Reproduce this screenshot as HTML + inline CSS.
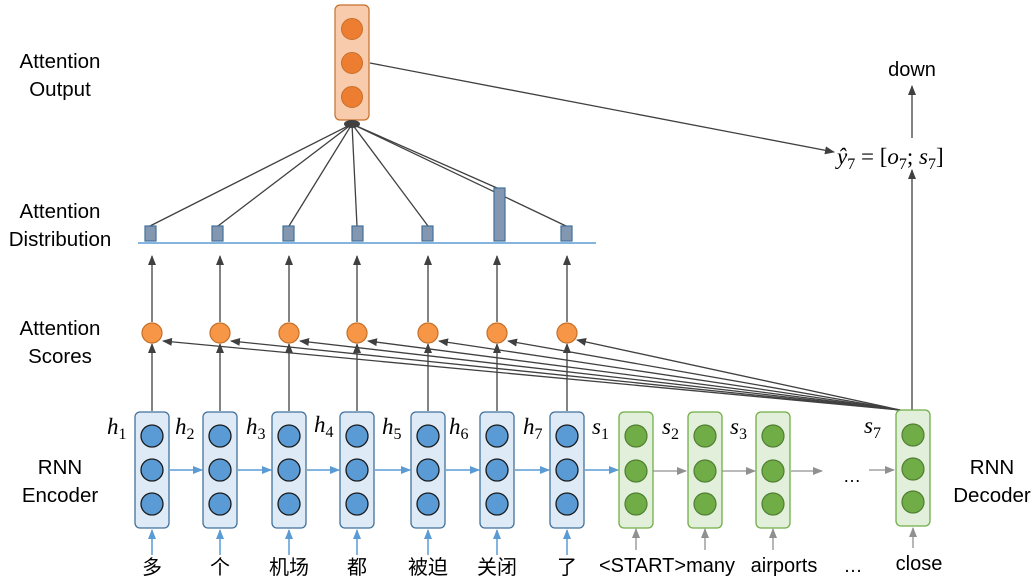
<!DOCTYPE html>
<html><head><meta charset="utf-8"><style>
body{margin:0;background:#fff;}
svg{display:block;font-family:"Liberation Sans","Noto Sans CJK SC",sans-serif;}
.lab{font-size:20.5px;fill:#000;text-anchor:middle;}
.m{font-family:"Liberation Serif","DejaVu Serif",serif;font-style:italic;font-size:23px;}
.w{font-size:20px;text-anchor:middle;}
</style></head><body>
<svg width="1036" height="588" viewBox="0 0 1036 588" xmlns="http://www.w3.org/2000/svg">
<defs>
<marker id="ak" markerWidth="10" markerHeight="10" refX="9" refY="5" orient="auto" markerUnits="userSpaceOnUse"><path d="M0,1 L10,5 L0,9 z" fill="#404040"/></marker>
<marker id="ab" markerWidth="10" markerHeight="10" refX="9" refY="5" orient="auto" markerUnits="userSpaceOnUse"><path d="M0,1 L10,5 L0,9 z" fill="#5b9bd5"/></marker>
<marker id="ag" markerWidth="10" markerHeight="10" refX="9" refY="5" orient="auto" markerUnits="userSpaceOnUse"><path d="M0,1 L10,5 L0,9 z" fill="#909090"/></marker>
</defs>

<text class="lab" x="60" y="68">Attention</text><text class="lab" x="60" y="96">Output</text>
<text class="lab" x="60" y="218">Attention</text><text class="lab" x="60" y="246">Distribution</text>
<text class="lab" x="60" y="335">Attention</text><text class="lab" x="60" y="363">Scores</text>
<text class="lab" x="60" y="474">RNN</text><text class="lab" x="60" y="502">Encoder</text>
<text class="lab" x="992" y="474">RNN</text><text class="lab" x="992" y="502">Decoder</text>

<g stroke="#404040" stroke-width="1.3" fill="none" marker-end="url(#ak)">
<line x1="900" y1="410" x2="163" y2="341"/>
<line x1="900" y1="410" x2="231" y2="341"/>
<line x1="900" y1="410" x2="300" y2="341"/>
<line x1="900" y1="410" x2="368" y2="341"/>
<line x1="900" y1="410" x2="439" y2="341"/>
<line x1="900" y1="410" x2="508" y2="341"/>
<line x1="900" y1="410" x2="577" y2="340"/>
</g>

<g stroke="#404040" stroke-width="1.3" marker-end="url(#ak)">
<line x1="152" y1="411" x2="152" y2="344"/><line x1="152" y1="322" x2="152" y2="256"/>
<line x1="220" y1="411" x2="220" y2="344"/><line x1="220" y1="322" x2="220" y2="256"/>
<line x1="289" y1="411" x2="289" y2="344"/><line x1="289" y1="322" x2="289" y2="256"/>
<line x1="357" y1="411" x2="357" y2="344"/><line x1="357" y1="322" x2="357" y2="256"/>
<line x1="428" y1="411" x2="428" y2="344"/><line x1="428" y1="322" x2="428" y2="256"/>
<line x1="497" y1="411" x2="497" y2="344"/><line x1="497" y1="322" x2="497" y2="256"/>
<line x1="567" y1="411" x2="567" y2="344"/><line x1="567" y1="322" x2="567" y2="256"/>
<line x1="912" y1="410" x2="912" y2="170"/>
<line x1="912" y1="138" x2="912" y2="86"/>
<line x1="370" y1="63" x2="834" y2="152"/>
</g>

<g fill="#f79646" stroke="#c5702a" stroke-width="1.2">
<circle cx="152" cy="333" r="10"/><circle cx="220" cy="333" r="10"/><circle cx="289" cy="333" r="10"/><circle cx="357" cy="333" r="10"/><circle cx="428" cy="333" r="10"/><circle cx="497" cy="333" r="10"/><circle cx="567" cy="333" r="10"/>
</g>

<line x1="138" y1="243" x2="596" y2="243" stroke="#5b9bd5" stroke-width="1.5"/>
<g stroke="#404040" stroke-width="1.3">
<line x1="352" y1="124" x2="150" y2="226"/>
<line x1="352" y1="124" x2="218" y2="226"/>
<line x1="352" y1="124" x2="289" y2="226"/>
<line x1="352" y1="124" x2="357" y2="226"/>
<line x1="352" y1="124" x2="428" y2="226"/>
<line x1="352" y1="124" x2="497" y2="188"/>
<line x1="352" y1="124" x2="566" y2="226"/>
</g>
<g fill="#8497b0" stroke="#41719c" stroke-width="1.2">
<rect x="145" y="226" width="11" height="15"/><rect x="212" y="226" width="11" height="15"/><rect x="283" y="226" width="11" height="15"/><rect x="352" y="226" width="11" height="15"/><rect x="422" y="226" width="11" height="15"/><rect x="494" y="188" width="11" height="53"/><rect x="561" y="226" width="11" height="15"/>
</g>

<rect x="335" y="5" width="34" height="115" rx="5" fill="#f8cbad" stroke="#c5702a" stroke-width="1.2"/>
<g fill="#ed7d31" stroke="#c5702a" stroke-width="1"><circle cx="352" cy="29" r="10.5"/><circle cx="352" cy="63" r="10.5"/><circle cx="352" cy="97" r="10.5"/></g>
<ellipse cx="352" cy="124" rx="8" ry="4" fill="#404040"/>

<text x="912" y="76" font-size="20" text-anchor="middle">down</text>
<text class="m" x="837" y="164" font-size="25" font-style="normal"><tspan font-style="italic">ŷ</tspan><tspan font-size="16" dy="5" font-style="normal">7</tspan><tspan dy="-5" font-style="normal"> = [</tspan><tspan font-style="italic">o</tspan><tspan font-size="16" dy="5" font-style="normal">7</tspan><tspan dy="-5" font-style="normal">; </tspan><tspan font-style="italic">s</tspan><tspan font-size="16" dy="5" font-style="normal">7</tspan><tspan dy="-5" font-style="normal">]</tspan></text>

<g stroke="#5b9bd5" stroke-width="1.5" marker-end="url(#ab)">
<line x1="170" y1="470" x2="202" y2="470"/><line x1="238" y1="470" x2="271" y2="470"/><line x1="307" y1="470" x2="339" y2="470"/><line x1="375" y1="470" x2="410" y2="470"/><line x1="446" y1="470" x2="479" y2="470"/><line x1="515" y1="470" x2="549" y2="470"/><line x1="585" y1="470" x2="618" y2="470"/>
<line x1="152" y1="555" x2="152" y2="530"/><line x1="220" y1="555" x2="220" y2="530"/><line x1="289" y1="555" x2="289" y2="530"/><line x1="357" y1="555" x2="357" y2="530"/><line x1="428" y1="555" x2="428" y2="530"/><line x1="497" y1="555" x2="497" y2="530"/><line x1="567" y1="555" x2="567" y2="530"/>
</g>
<g stroke="#909090" stroke-width="1.3" marker-end="url(#ag)">
<line x1="653" y1="471" x2="686" y2="471"/><line x1="722" y1="471" x2="755" y2="471"/><line x1="791" y1="471" x2="822" y2="471"/><line x1="869" y1="470" x2="894" y2="470"/>
<line x1="636" y1="550" x2="636" y2="529"/><line x1="705" y1="550" x2="705" y2="529"/><line x1="773" y1="550" x2="773" y2="529"/><line x1="913" y1="548" x2="913" y2="528"/>
</g>

<g fill="#deebf7" stroke="#41719c" stroke-width="1.3">
<rect x="135" y="412" width="34" height="116" rx="5"/><rect x="203" y="412" width="34" height="116" rx="5"/><rect x="272" y="412" width="34" height="116" rx="5"/><rect x="340" y="412" width="34" height="116" rx="5"/><rect x="411" y="412" width="34" height="116" rx="5"/><rect x="480" y="412" width="34" height="116" rx="5"/><rect x="550" y="412" width="34" height="116" rx="5"/>
</g>
<g fill="#5b9bd5" stroke="#1a1a1a" stroke-width="1.3">
<circle cx="152" cy="436" r="11"/><circle cx="152" cy="470" r="11"/><circle cx="152" cy="504" r="11"/>
<circle cx="220" cy="436" r="11"/><circle cx="220" cy="470" r="11"/><circle cx="220" cy="504" r="11"/>
<circle cx="289" cy="436" r="11"/><circle cx="289" cy="470" r="11"/><circle cx="289" cy="504" r="11"/>
<circle cx="357" cy="436" r="11"/><circle cx="357" cy="470" r="11"/><circle cx="357" cy="504" r="11"/>
<circle cx="428" cy="436" r="11"/><circle cx="428" cy="470" r="11"/><circle cx="428" cy="504" r="11"/>
<circle cx="497" cy="436" r="11"/><circle cx="497" cy="470" r="11"/><circle cx="497" cy="504" r="11"/>
<circle cx="567" cy="436" r="11"/><circle cx="567" cy="470" r="11"/><circle cx="567" cy="504" r="11"/>
</g>

<g fill="#e2efda" stroke="#70ad47" stroke-width="1.3">
<rect x="619" y="412" width="34" height="116" rx="5"/><rect x="688" y="412" width="34" height="116" rx="5"/><rect x="756" y="412" width="34" height="116" rx="5"/><rect x="896" y="410" width="34" height="116" rx="5"/>
</g>
<g fill="#70ad47" stroke="#507e32" stroke-width="1.2">
<circle cx="636" cy="436" r="11"/><circle cx="636" cy="471" r="11"/><circle cx="636" cy="504" r="11"/>
<circle cx="705" cy="436" r="11"/><circle cx="705" cy="471" r="11"/><circle cx="705" cy="504" r="11"/>
<circle cx="773" cy="436" r="11"/><circle cx="773" cy="471" r="11"/><circle cx="773" cy="504" r="11"/>
<circle cx="913" cy="435" r="11"/><circle cx="913" cy="469" r="11"/><circle cx="913" cy="502" r="11"/>
</g>

<g class="m">
<text x="107" y="434">h<tspan font-size="16" dy="5" font-style="normal">1</tspan></text>
<text x="175" y="434">h<tspan font-size="16" dy="5" font-style="normal">2</tspan></text>
<text x="246" y="434">h<tspan font-size="16" dy="5" font-style="normal">3</tspan></text>
<text x="314" y="432">h<tspan font-size="16" dy="5" font-style="normal">4</tspan></text>
<text x="382" y="434">h<tspan font-size="16" dy="5" font-style="normal">5</tspan></text>
<text x="449" y="434">h<tspan font-size="16" dy="5" font-style="normal">6</tspan></text>
<text x="523" y="434">h<tspan font-size="16" dy="5" font-style="normal">7</tspan></text>
<text x="592" y="434">s<tspan font-size="16" dy="5" font-style="normal">1</tspan></text>
<text x="662" y="434">s<tspan font-size="16" dy="5" font-style="normal">2</tspan></text>
<text x="730" y="434">s<tspan font-size="16" dy="5" font-style="normal">3</tspan></text>
<text x="864" y="433">s<tspan font-size="16" dy="5" font-style="normal">7</tspan></text>
</g>

<text x="852" y="482" font-size="18" text-anchor="middle">…</text>

<g class="w">
<text x="152" y="574">多</text><text x="220" y="574">个</text><text x="289" y="574">机场</text><text x="357" y="574">都</text><text x="428" y="574">被迫</text><text x="497" y="574">关闭</text><text x="567" y="574">了</text>
<text x="667" y="572" font-size="20">&lt;START&gt;many</text><text x="784" y="572" font-size="20">airports</text><text x="853" y="572" font-size="19">…</text><text x="919" y="570" font-size="20">close</text>
</g>
</svg>
</body></html>
